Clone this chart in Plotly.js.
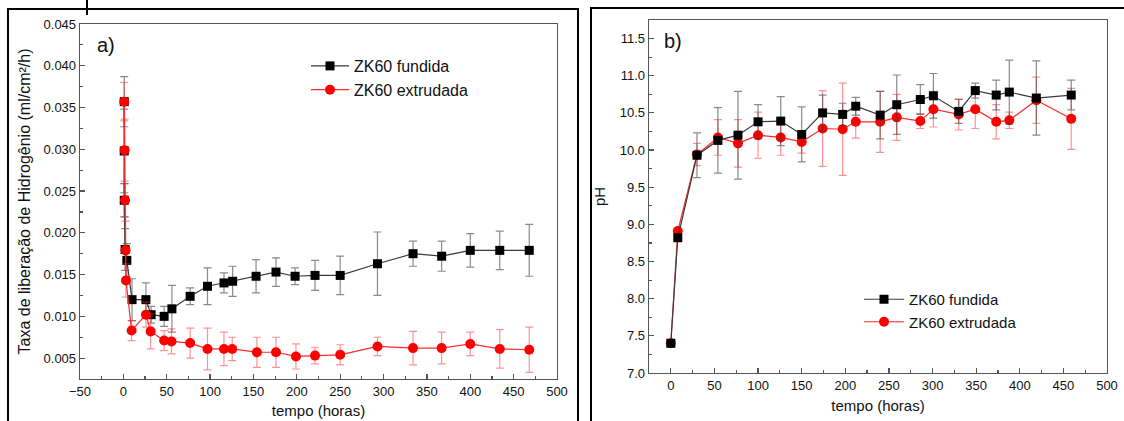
<!DOCTYPE html>
<html>
<head>
<meta charset="utf-8">
<script src="https://cdn.plot.ly/plotly-3.0.1.min.js"></script>
<style>html,body{margin:0;padding:0;background:#fff;}#chart{width:1124px;height:421px;}</style>
</head>
<body>
<div id="chart"></div>
<script>
// ---- Panel a: hydrogen release rate ----
const fundidaTimeA = [1, 1, 1, 2, 4, 10, 26, 32, 47, 56, 77, 97, 116, 126, 153, 176, 198, 221, 250, 293, 334, 367, 400, 434, 468];
const fundidaRateA = [0.0357, 0.0298, 0.0239, 0.0180, 0.0167, 0.0120, 0.0120, 0.0102, 0.0100, 0.0109, 0.0124, 0.0136, 0.0140, 0.0142, 0.0148, 0.0153, 0.0148, 0.0149, 0.0149, 0.0163, 0.0175, 0.0172, 0.0179, 0.0179, 0.0179];
const fundidaErrA = [0.003, 0.005, 0.002, 0.0025, 0.002, 0.0025, 0.002, 0.001, 0.0012, 0.0028, 0.001, 0.0022, 0.0012, 0.0018, 0.002, 0.0017, 0.001, 0.0018, 0.0023, 0.0038, 0.0015, 0.0018, 0.002, 0.0023, 0.0031];

const extrudadaTimeA = [1, 1.5, 2, 2.5, 3, 9.5, 26, 31.5, 47, 55.5, 77, 97, 116, 125.5, 154, 176, 199, 221, 250, 293, 334, 367, 400, 434, 468];
const extrudadaRateA = [0.0357, 0.0299, 0.0239, 0.0179, 0.0143, 0.0083, 0.0102, 0.0082, 0.0071, 0.0070, 0.0068, 0.0061, 0.0061, 0.0061, 0.0057, 0.0057, 0.0052, 0.0053, 0.0054, 0.0064, 0.0062, 0.0062, 0.0067, 0.0061, 0.0060];
const extrudadaErrA = [0.0023, 0.0037, 0.002, 0.0035, 0.002, 0.0012, 0.0015, 0.0021, 0.0012, 0.0015, 0.0018, 0.0025, 0.002, 0.0014, 0.0018, 0.0018, 0.0015, 0.001, 0.0012, 0.0011, 0.002, 0.0019, 0.0014, 0.0023, 0.0027];

// ---- Panel b: pH ----
const timeB = [0, 8, 30, 54, 77, 100, 126, 150, 174, 197, 212, 240, 259, 286, 301, 330, 349, 373, 388, 419, 459];
const fundidaPH = [7.40, 8.82, 9.93, 10.13, 10.20, 10.38, 10.39, 10.21, 10.50, 10.48, 10.59, 10.47, 10.61, 10.68, 10.73, 10.52, 10.80, 10.74, 10.78, 10.70, 10.74];
const fundidaErrB = [0.02, 0.02, 0.30, 0.44, 0.59, 0.23, 0.33, 0.37, 0.24, 0.15, 0.12, 0.32, 0.40, 0.20, 0.30, 0.16, 0.10, 0.20, 0.43, 0.50, 0.20];
const extrudadaPH = [7.40, 8.91, 9.94, 10.17, 10.09, 10.20, 10.17, 10.11, 10.29, 10.28, 10.38, 10.38, 10.44, 10.39, 10.55, 10.48, 10.55, 10.38, 10.40, 10.67, 10.42];
const extrudadaErrB = [0.02, 0.02, 0.15, 0.24, 0.32, 0.31, 0.24, 0.15, 0.51, 0.62, 0.22, 0.41, 0.31, 0.10, 0.24, 0.21, 0.26, 0.23, 0.11, 0.31, 0.41];

const seriesNames = ['ZK60 fundida', 'ZK60 extrudada'];
const xTitle = 'tempo (horas)';
const yTitleA = 'Taxa de liberação de Hidrogênio (ml/cm²/h)';
const yTitleB = 'pH';

const W = 1124, H = 421;
const px = v => v / W;
const py = v => (H - v) / H;

const BLACK = '#000000', BLACK_LINE = '#3a3a3a', BLACK_ERR = 'rgba(60,60,60,0.6)';
const RED = '#ff0000', RED_LINE = '#ff2a2a', RED_ERR = 'rgba(255,40,40,0.5)';

function blackTrace(x, y, err, xa, ya, leg) {
  return {x: x, y: y, type: 'scatter', mode: 'lines+markers', name: seriesNames[0],
    xaxis: xa, yaxis: ya, legend: leg, legendrank: 1,
    line: {color: BLACK_LINE, width: 1.2},
    marker: {symbol: 'square', size: 9, color: BLACK},
    error_y: {type: 'data', array: err, visible: true, color: BLACK_ERR, thickness: 1.2, width: 4}};
}
function redTrace(x, y, err, xa, ya, leg) {
  return {x: x, y: y, type: 'scatter', mode: 'lines+markers', name: seriesNames[1],
    xaxis: xa, yaxis: ya, legend: leg, legendrank: 2,
    line: {color: RED_LINE, width: 1.2},
    marker: {symbol: 'circle', size: 10, color: RED},
    error_y: {type: 'data', array: err, visible: true, color: RED_ERR, thickness: 1.2, width: 4}};
}

const data = [
  blackTrace(fundidaTimeA, fundidaRateA, fundidaErrA, 'x', 'y', 'legend'),
  redTrace(extrudadaTimeA, extrudadaRateA, extrudadaErrA, 'x', 'y', 'legend'),
  redTrace(timeB, extrudadaPH, extrudadaErrB, 'x2', 'y2', 'legend2'),
  blackTrace(timeB, fundidaPH, fundidaErrB, 'x2', 'y2', 'legend2')
];

const FONT = 'Liberation Sans, Arial, sans-serif';
const axisCommon = {
  showline: true, mirror: true, linecolor: '#555', linewidth: 1.3,
  ticks: 'inside', ticklen: 5, tickcolor: '#555', tickwidth: 1.2,
  showgrid: false, zeroline: false,
  tickfont: {family: FONT, size: 13, color: '#111'}
};

const layout = {
  width: W, height: H,
  margin: {l: 0, r: 0, t: 0, b: 0},
  paper_bgcolor: '#fff', plot_bgcolor: '#fff',
  font: {family: FONT, color: '#111'},
  showlegend: true,
  xaxis: Object.assign({}, axisCommon, {
    domain: [px(80), px(557)], anchor: 'y', range: [-50, 500], dtick: 50, tick0: 0,
    minor: {dtick: 25, ticks: 'inside', ticklen: 3, tickcolor: '#555'},
    title: {text: xTitle, font: {family: FONT, size: 15, color: '#111'}, standoff: 7}
  }),
  yaxis: Object.assign({}, axisCommon, {
    domain: [py(379), py(24)], anchor: 'x', range: [0.0025, 0.045], dtick: 0.005, tick0: 0,
    tickformat: '.3f',
    minor: {dtick: 0.0025, ticks: 'inside', ticklen: 3, tickcolor: '#555'},
    title: {text: yTitleA, font: {family: FONT, size: 16, color: '#111'}, standoff: 9}
  }),
  xaxis2: Object.assign({}, axisCommon, {
    domain: [px(649), px(1107)], anchor: 'y2', range: [-25, 500], dtick: 50, tick0: 0,
    minor: {dtick: 25, ticks: 'inside', ticklen: 3, tickcolor: '#555'},
    title: {text: xTitle, font: {family: FONT, size: 15, color: '#111'}, standoff: 8}
  }),
  yaxis2: Object.assign({}, axisCommon, {
    domain: [py(373), py(20)], anchor: 'x2', range: [7, 11.75], dtick: 0.5, tick0: 7,
    tickformat: '.1f',
    minor: {dtick: 0.25, ticks: 'inside', ticklen: 3, tickcolor: '#555'},
    title: {text: yTitleB, font: {family: FONT, size: 15, color: '#111'}, standoff: 10}
  }),
  legend: {x: px(306), y: py(49), xanchor: 'left', yanchor: 'top', bgcolor: 'rgba(0,0,0,0)',
    font: {family: FONT, size: 16, color: '#111'}, tracegroupgap: 0, itemwidth: 38},
  legend2: {x: px(859), y: py(283), xanchor: 'left', yanchor: 'top', bgcolor: 'rgba(0,0,0,0)',
    font: {family: FONT, size: 15, color: '#111'}, tracegroupgap: 0, itemwidth: 40},
  annotations: [
    {text: 'a)', xref: 'paper', yref: 'paper', x: px(95), y: py(45), xanchor: 'left', yanchor: 'middle', showarrow: false, font: {family: FONT, size: 20, color: '#111'}},
    {text: 'b)', xref: 'paper', yref: 'paper', x: px(662), y: py(41), xanchor: 'left', yanchor: 'middle', showarrow: false, font: {family: FONT, size: 20, color: '#111'}}
  ],
  shapes: [
    {type: 'rect', xref: 'paper', yref: 'paper', x0: px(8), x1: px(578), y0: -0.05, y1: py(9), line: {color: '#000', width: 2}},
    {type: 'rect', xref: 'paper', yref: 'paper', x0: px(591), x1: 1.05, y0: -0.05, y1: py(8), line: {color: '#000', width: 2}},
    {type: 'line', xref: 'paper', yref: 'paper', x0: px(87), x1: px(87), y0: py(0), y1: py(15), line: {color: '#000', width: 2}}
  ]
};

Plotly.newPlot('chart', data, layout, {displayModeBar: false, staticPlot: true});
</script>
</body>
</html>
